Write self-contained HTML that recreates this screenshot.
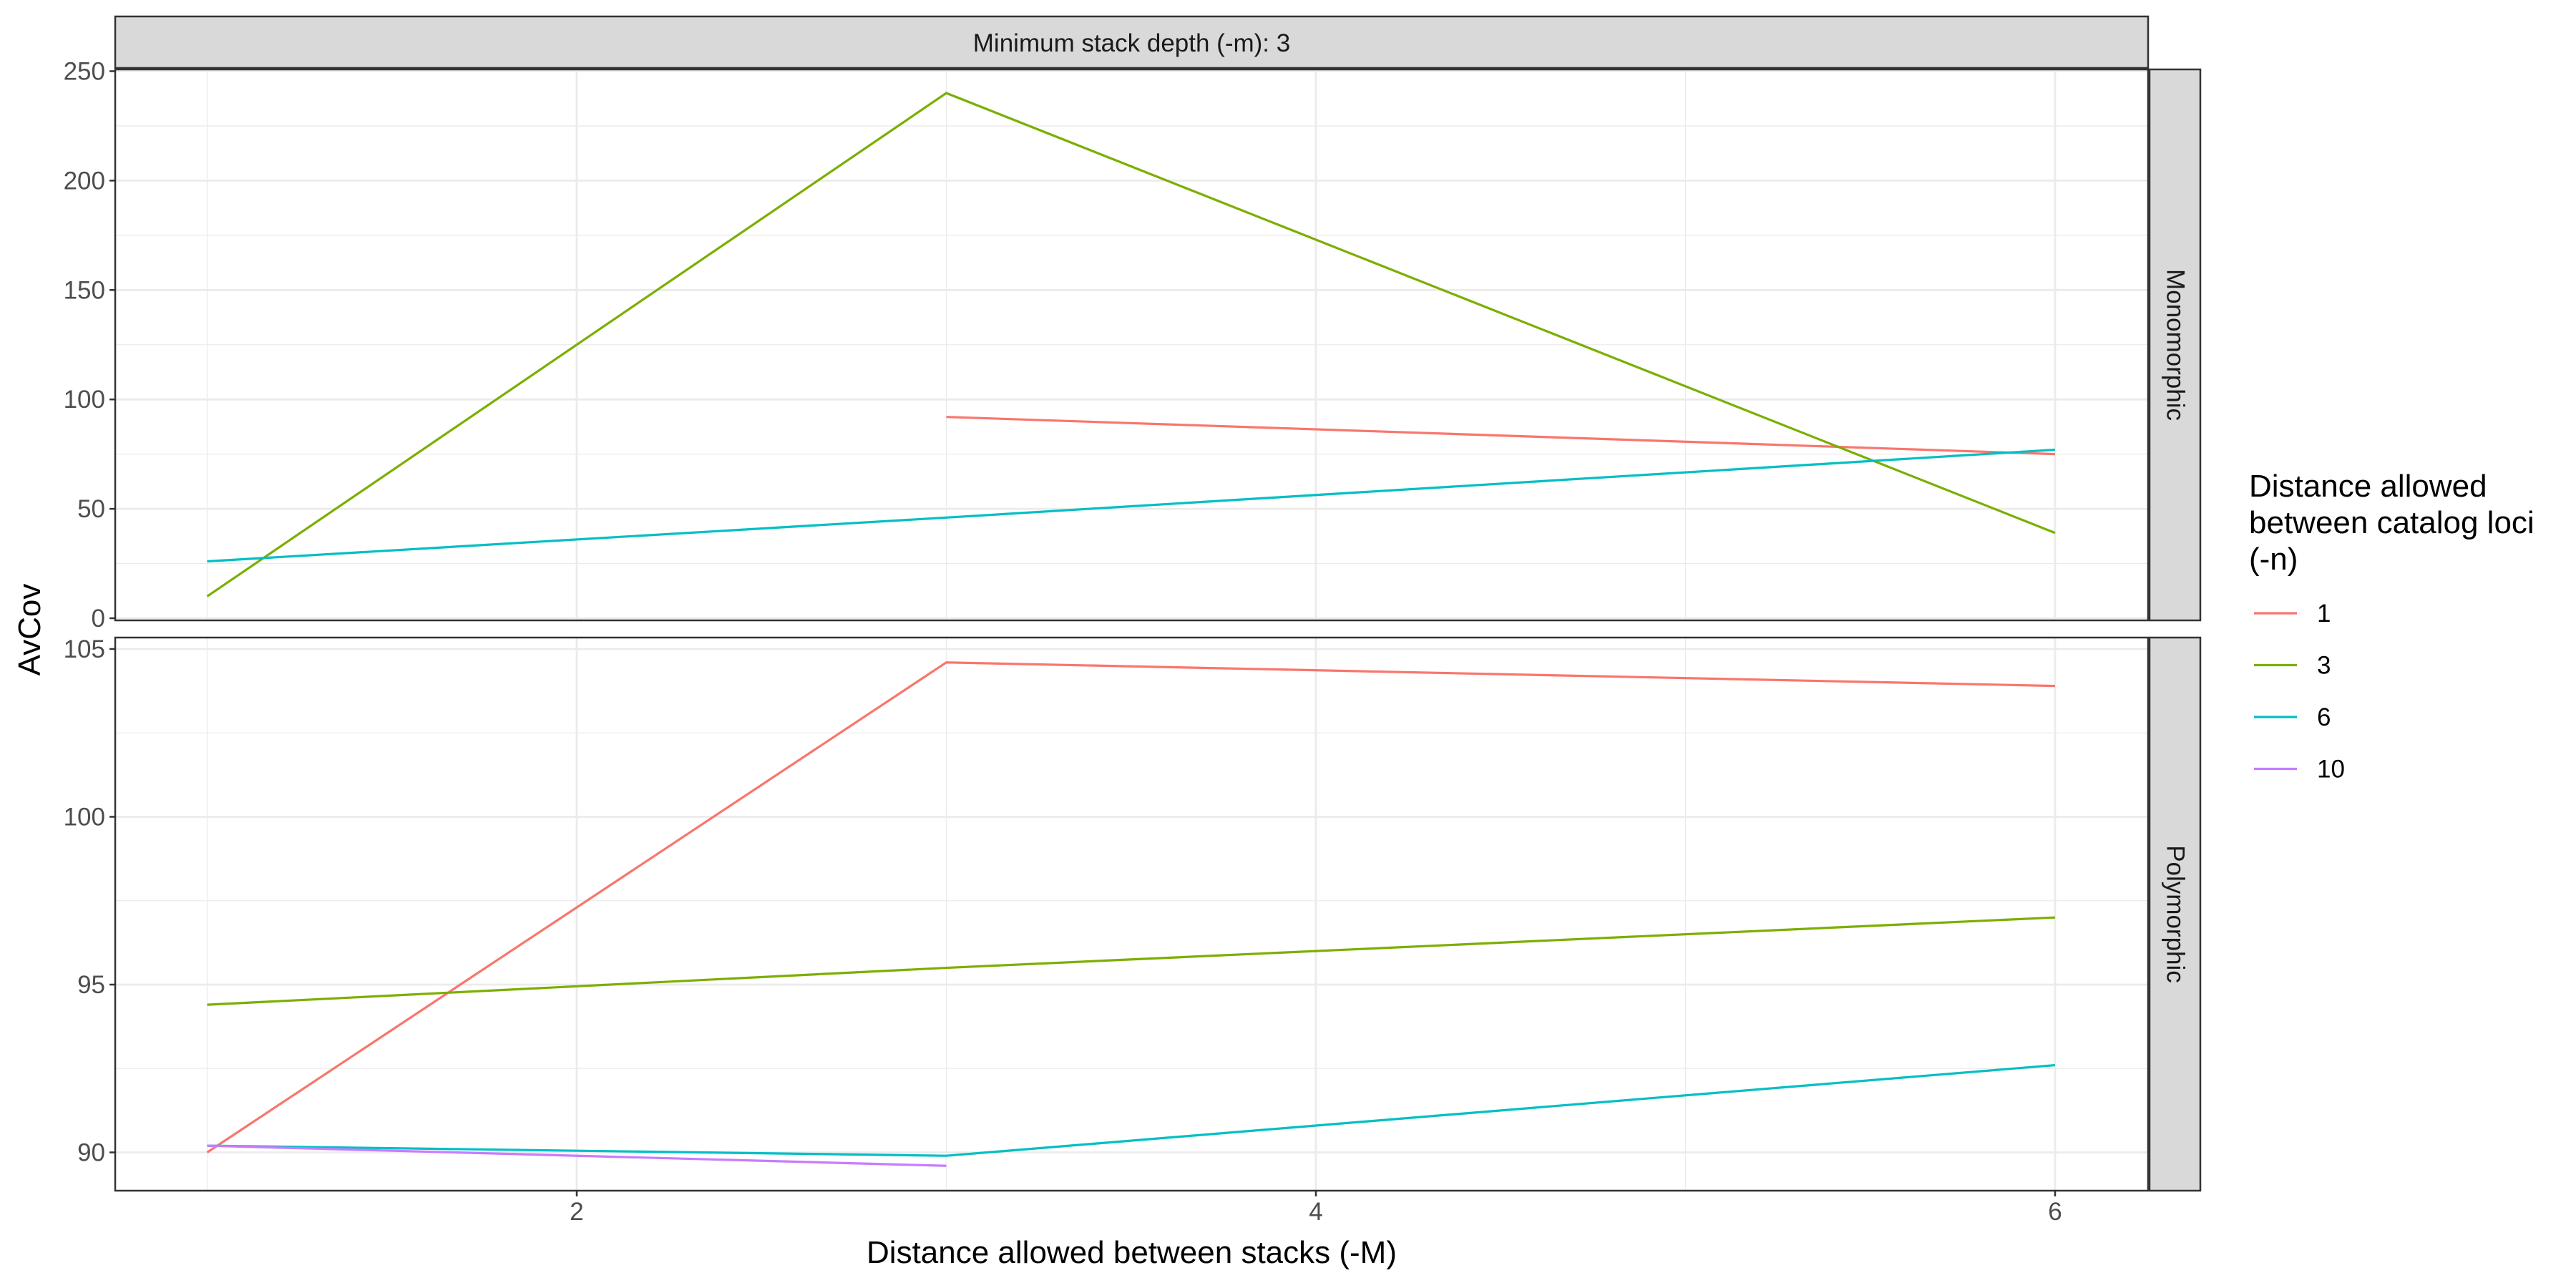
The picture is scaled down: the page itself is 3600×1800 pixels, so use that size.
<!DOCTYPE html>
<html><head><meta charset="utf-8"><style>
html,body{margin:0;padding:0;background:#fff}
svg{display:block;font-family:"Liberation Sans",sans-serif}
</style></head><body>
<svg id="chart" width="3600" height="1800" viewBox="0 0 3600 1800" xmlns="http://www.w3.org/2000/svg"></svg>
<script>
const seriesNames = ["1","3","6","10"];
const seriesColors = ["#F8766D","#7CAE00","#00BFC4","#C77CFF"];
const xTicks = [2,4,6];
const topTicks = [0,50,100,150,200,250];
const bottomTicks = [90,95,100,105];
const monoX = [[3,6],[1,3,6],[1,3,6],[]];
const monoY = [[92,75],[10,240,39],[26,46,77],[]];
const polyX = [[1,3,6],[1,3,6],[1,3,6],[1,3]];
const polyY = [[90.0,104.6,103.9],[94.4,95.5,97.0],[90.2,89.9,92.6],[90.2,89.6]];

const NS="http://www.w3.org/2000/svg";
const svg=document.getElementById('chart');
function mk(tag,attrs,parent){const e=document.createElementNS(NS,tag);for(const k in attrs)e.setAttribute(k,attrs[k]);(parent||svg).appendChild(e);return e;}
const L=161,R=3002;
const xS=v=>289.5+(v-1)*516.5;
const topP={t:97,b:867,y:v=>864-(v)*(764.5/250)};
const botP={t:891,b:1664,y:v=>907+(105-v)*46.9};

function panel(p,ticks,minor,xs,ys,name,label){
  const g=mk('g',{});
  
  
  mk('rect',{x:L,y:p.t,width:R-L,height:p.b-p.t,fill:'#fff'},g);
  minor.forEach(v=>mk('line',{x1:L,x2:R,y1:p.y(v),y2:p.y(v),stroke:'#ebebeb','stroke-width':1.3},g));
  [1,3,5].forEach(v=>mk('line',{x1:xS(v),x2:xS(v),y1:p.t,y2:p.b,stroke:'#ebebeb','stroke-width':1.3},g));
  ticks.forEach(v=>mk('line',{x1:L,x2:R,y1:p.y(v),y2:p.y(v),stroke:'#ebebeb','stroke-width':2.8},g));
  xTicks.forEach(v=>mk('line',{x1:xS(v),x2:xS(v),y1:p.t,y2:p.b,stroke:'#ebebeb','stroke-width':2.8},g));
  for(let i=0;i<seriesNames.length;i++){
    if(!xs[i].length)continue;
    const pl=mk('polyline',{points:xs[i].map((x,j)=>xS(x)+','+p.y(ys[i][j])).join(' '),fill:'none',stroke:seriesColors[i],'stroke-width':3.2},g);
    
    
  }
  mk('rect',{x:L,y:p.t,width:R-L,height:p.b-p.t,fill:'none',stroke:'#333','stroke-width':2.5},g);
  ticks.forEach(v=>{
    mk('line',{x1:L-8,x2:L,y1:p.y(v),y2:p.y(v),stroke:'#333','stroke-width':2.5},g);
    const t=mk('text',{x:L-14,y:p.y(v)+12,'text-anchor':'end','font-size':35,fill:'#4d4d4d'},g);
    t.textContent=v;
    
    
  });
  const s=mk('rect',{x:3004,y:p.t,width:71,height:p.b-p.t,fill:'#d9d9d9',stroke:'#333','stroke-width':2.5},g);
  
  
  const cy=(p.t+p.b)/2;
  const st=mk('text',{x:3040,y:cy,'text-anchor':'middle','font-size':35,fill:'#1a1a1a',transform:'rotate(90 3040 '+cy+')','dominant-baseline':'central'},g);
  st.textContent=label;
  
  
}
panel(topP,topTicks,[25,75,125,175,225],monoX,monoY,'monomorphic','Monomorphic');
panel(botP,bottomTicks,[92.5,97.5,102.5],polyX,polyY,'polymorphic','Polymorphic');

const ts=mk('rect',{x:L,y:23,width:R-L,height:72,fill:'#d9d9d9',stroke:'#333','stroke-width':2.5});


const tt=mk('text',{x:(L+R)/2,y:72,'text-anchor':'middle','font-size':35,fill:'#1a1a1a'});
tt.textContent='Minimum stack depth (-m): 3';



xTicks.forEach(v=>{
  mk('line',{x1:xS(v),x2:xS(v),y1:1664,y2:1672,stroke:'#333','stroke-width':2.5});
  const t=mk('text',{x:xS(v),y:1705,'text-anchor':'middle','font-size':35,fill:'#4d4d4d'});
  t.textContent=v;
  
  
});
const xt=mk('text',{x:(L+R)/2,y:1765,'text-anchor':'middle','font-size':44,fill:'#000'});
xt.textContent='Distance allowed between stacks (-M)';


const yt=mk('text',{x:56,y:880,'text-anchor':'middle','font-size':44,fill:'#000',transform:'rotate(-90 56 880)'});
yt.textContent='AvCov';



const lg=mk('g',{});


['Distance allowed','between catalog loci','(-n)'].forEach((s,i)=>{
  const t=mk('text',{x:3143,y:694+i*51,'font-size':44,fill:'#000'},lg);
  t.textContent=s;
  
  
});
seriesNames.forEach((n,i)=>{
  const y=857+i*72.5;
  const l=mk('line',{x1:3150,x2:3210,y1:y,y2:y,stroke:seriesColors[i],'stroke-width':3.2},lg);
  
  
  const t=mk('text',{x:3238,y:y+12,'font-size':35,fill:'#000'},lg);
  t.textContent=n;
  
  
});
</script>
</body></html>
